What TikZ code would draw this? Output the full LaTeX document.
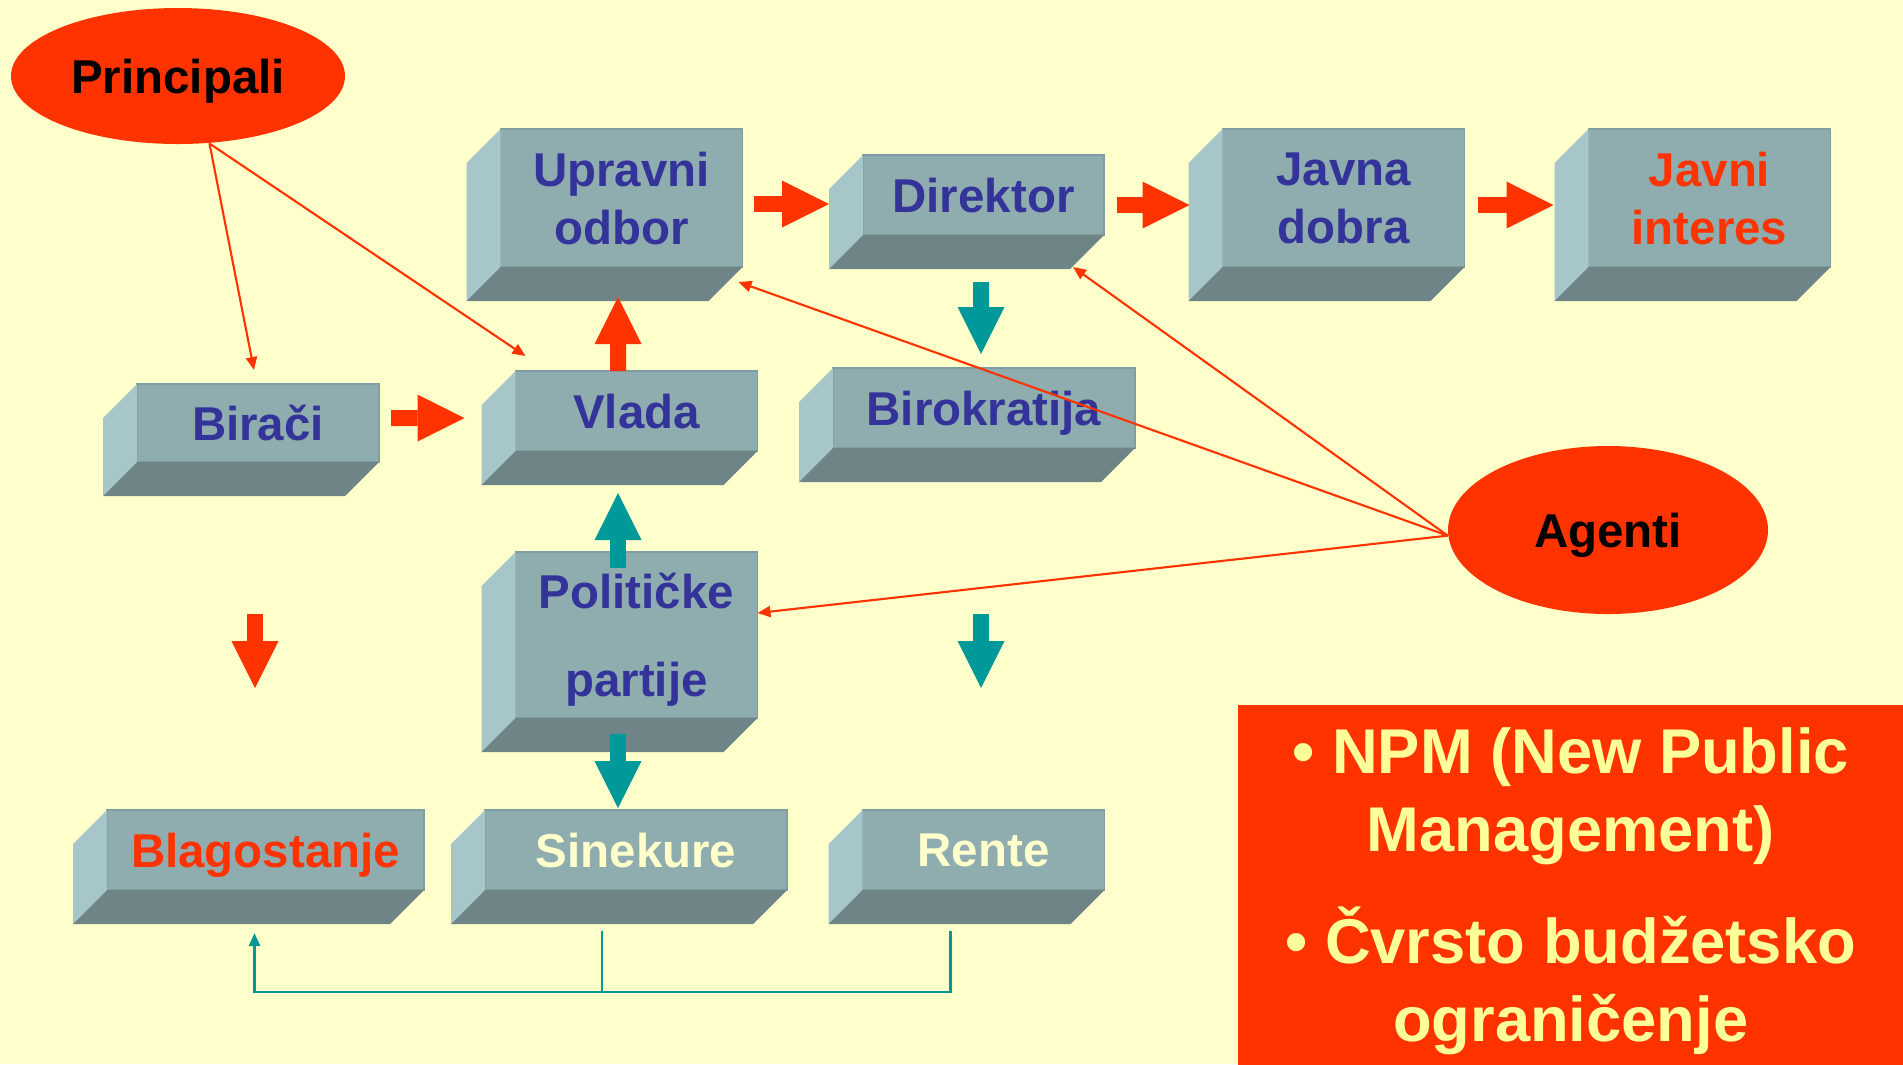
\documentclass[tikz,border=0pt]{standalone}
\usepackage{fontspec}
\setmainfont{Liberation Sans}
\usetikzlibrary{arrows.meta,shapes,calc}

\definecolor{pozadina}{HTML}{FFFFCC}
\definecolor{crvena}{HTML}{FF3300}
\definecolor{tirkiz}{HTML}{009999}
\definecolor{plava}{HTML}{333399}
\definecolor{lice}{HTML}{8FADAF}
\definecolor{bok}{HTML}{A6C6CA}
\definecolor{dno}{HTML}{6E8486}
\definecolor{rub}{HTML}{7F9EA1}
\definecolor{zuta}{HTML}{FFFF99}

\begin{document}
\begin{tikzpicture}[
	kutija/.style={rectangle,fill=lice,draw=rub,line width=0.4pt,inner sep=0pt,outer sep=0pt,minimum width=2.42cm,minimum height=0.8cm,text depth=0pt,align=center,text=plava,font=\fontsize{13.5}{16.5}\selectfont\bfseries},
	elipsa/.style={ellipse,fill=crvena,inner sep=0pt,text depth=0pt,font=\fontsize{13.5}{16}\selectfont\bfseries},
	debela/.style={line width=0.16cm,-{Triangle[length=0.47cm,width=0.47cm,line width=0pt]}},
	tanka/.style={crvena,line width=0.6pt,-{Triangle[length=1.3mm,width=1.1mm]}}]
	\fill[pozadina] (0,0) rectangle (19.03,-10.64);
	\useasboundingbox (0,0) rectangle (19.03,-10.64);
	
	\node[elipsa,minimum width=3.34cm,minimum height=1.36cm] (principali) at (1.78,-0.76) {Principali};
	\node[elipsa,minimum width=3.20cm,minimum height=1.68cm] (agenti) at (16.08,-5.30) {Agenti};
	
	\node[kutija,minimum height=1.38cm] (upravni) at (6.215,-1.98) {Upravni\\odbor};
	\node[kutija,minimum width=2.41cm] (direktor) at (9.835,-1.95) {Direktor};
	\node[kutija,minimum height=1.38cm] (javnadobra) at (13.435,-1.98) {Javna\\dobra};
	\node[kutija,minimum height=1.38cm,text=crvena] (javniint) at (17.095,-1.98) {Javni\\interes};
	\node[kutija,minimum height=0.78cm] (biraci) at (2.58,-4.23) {Birači};
	\node[kutija] (vlada) at (6.365,-4.11) {Vlada};
	\node[kutija,minimum width=3.02cm] (birokratija) at (9.84,-4.08) {Birokratija};
	\node[kutija,minimum height=1.66cm,font=\fontsize{13.5}{25}\selectfont\bfseries] (partije) at (6.365,-6.35) {Političke\\partije};
	\node[kutija,minimum width=3.17cm,text=crvena] (blagostanje) at (2.655,-8.50) {Blagostanje};
	\node[kutija,minimum width=3.02cm,text=pozadina] (sinekure) at (6.36,-8.50) {Sinekure};
	\node[kutija,text=pozadina] (rente) at (9.835,-8.50) {Rente};
	
	\foreach \n in {upravni,direktor,javnadobra,javniint,biraci,vlada,birokratija,partije,blagostanje,sinekure,rente}{
		\fill[bok] (\n.north west) -- ++(-0.34,-0.34) -- ($(\n.south west)+(-0.34,-0.34)$) -- (\n.south west) -- cycle;
		\fill[dno] (\n.south west) -- ++(-0.34,-0.34) -- ($(\n.south east)+(-0.34,-0.34)$) -- (\n.south east) -- cycle;
	}
	
	\node[rectangle,fill=crvena,minimum width=6.66cm,minimum height=3.60cm,anchor=north west,inner sep=0pt,text depth=-0.14cm,text=zuta,align=center,font=\fontsize{18}{22.2}\selectfont\bfseries] (npm) at (12.37,-7.04) {• NPM (New Public\\Management)\\[0.34cm]• Čvrsto budžetsko\\ograničenje};
	
	\draw[debela,crvena] ($(upravni.east)+(0.11,-0.06)$) -- ($(direktor.west)+(-0.34,-0.09)$);
	\draw[debela,crvena] ($(direktor.east)+(0.13,-0.10)$) -- ($(javnadobra.west)+(-0.33,-0.07)$);
	\draw[debela,crvena] ($(javnadobra.east)+(0.13,-0.07)$) -- ($(javniint.west)+(-0.35,-0.07)$);
	\draw[debela,crvena] ($(biraci.east)+(0.12,0.05)$) -- ($(vlada.west)+(-0.51,-0.07)$);
	\draw[debela,crvena] ($(vlada.north)+(-0.185,0)$) -- ($(upravni.south)+(-0.035,-0.30)$);
	\draw[debela,tirkiz] ($(direktor.south)+(-0.025,-0.47)$) -- ($(birokratija.north)+(-0.03,0.14)$);
	\draw[debela,tirkiz] ($(partije.north)+(-0.185,-0.16)$) -- ($(vlada.south)+(-0.185,-0.42)$);
	\draw[debela,tirkiz] ($(partije.south)+(-0.185,-0.16)$) -- ($(sinekure.north)+(-0.18,0.02)$);
	
	\coordinate (kblag) at (2.55,-6.14);
	\coordinate (krent) at (9.81,-6.14);
	\draw[debela,crvena] (kblag) -- ++(0,-0.74);
	\draw[debela,tirkiz] (krent) -- ++(0,-0.74);
	
	\draw[tanka] (principali.-65) -- ($(biraci.north)+(-0.04,0.14)$);
	\draw[tanka] (principali.-65) -- ($(vlada.north west)+(0.10,0.15)$);
	\draw[tanka] (agenti.182) -- ($(upravni.south east)+(-0.04,-0.15)$);
	\draw[tanka] (agenti.182) -- ($(direktor.south east)+(-0.31,-0.32)$);
	\draw[tanka] (agenti.182) -- ($(partije.east)+(0,0.22)$);
	
	\draw[tirkiz,line width=0.8pt] ($(sinekure.south)+(-0.34,-0.41)$) -- ++(0,-0.61);
	\draw[tirkiz,line width=0.8pt,-{Triangle[length=1.3mm,width=1.1mm]}] ($(rente.south)+(-0.33,-0.41)$) -- ++(0,-0.61) -| ($(blagostanje.south)+(-0.11,-0.43)$);
\end{tikzpicture}
\end{document}
